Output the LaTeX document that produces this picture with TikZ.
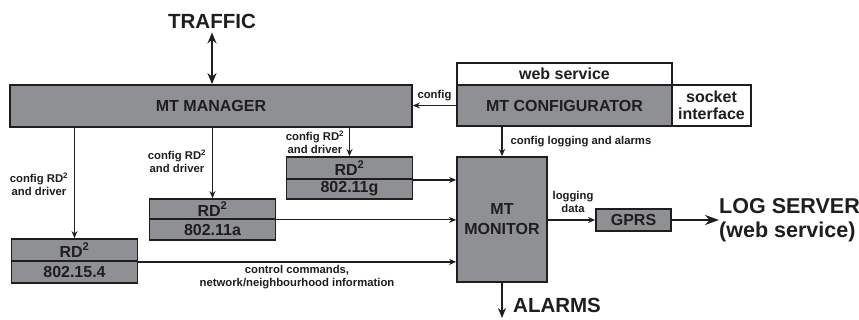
\documentclass[tikz,border=0pt]{standalone}
\usepackage{fontspec}
\setmainfont{Liberation Sans}
\usetikzlibrary{arrows.meta}
\definecolor{boxgray}{RGB}{143,144,148}
\definecolor{ink}{RGB}{30,30,30}
\begin{document}
\begin{tikzpicture}[x=1pt,y=-1pt,
  blk/.style={draw=ink,line width=1.8pt,fill=boxgray,inner sep=0pt,font=\bfseries\fontsize{16}{17}\selectfont,text=ink},
  wht/.style={blk,fill=white},
  lbl/.style={font=\bfseries\fontsize{11.3}{13}\selectfont,text=ink,align=center,inner sep=0pt},
  big/.style={font=\bfseries\fontsize{20.5}{24}\selectfont,text=ink,inner sep=0pt},
  conn/.style={draw=ink,line width=1.3pt,-{Stealth[length=7pt,width=6pt]}},
  plain/.style={draw=ink,line width=1.3pt}]
\useasboundingbox (0,0) rectangle (859,320);
\clip (0,0) rectangle (859,320);
\fill[white] (0,0) rectangle (859,320);
% main boxes
\node[blk,minimum width=402pt,minimum height=42pt] (mgr) at (211,106) {MT MANAGER};
\node[wht,minimum width=215pt,minimum height=22pt] (web) at (564.5,74) {web service};
\node[blk,minimum width=215pt,minimum height=41pt] (cfg) at (564.5,105.5) {MT CONFIGURATOR};
\node[wht,minimum width=79pt,minimum height=41pt,align=center,font=\bfseries\fontsize{16}{17}\selectfont] (sock) at (711.5,105.5) {socket\\interface};
\node[blk,minimum width=90pt,minimum height=125pt,align=center,font=\bfseries\fontsize{16}{20}\selectfont] (mon) at (502,219.5) {MT\\MONITOR};
\node[blk,minimum width=75pt,minimum height=22pt] (gprs) at (633.5,220) {GPRS};
% RD2 boxes
\node[blk,minimum width=126pt,minimum height=22pt] (aT) at (74.5,250) {RD\textsuperscript{2}};
\node[blk,minimum width=126pt,minimum height=22pt] (aB) at (74.5,272) {802.15.4};
\node[blk,minimum width=126pt,minimum height=20pt] (bT) at (212.5,209) {RD\textsuperscript{2}};
\node[blk,minimum width=126pt,minimum height=21pt] (bB) at (212.5,229.5) {802.11a};
\node[blk,minimum width=126pt,minimum height=22pt] (cT) at (349.5,168) {RD\textsuperscript{2}};
\node[blk,minimum width=126pt,minimum height=20pt] (cB) at (349.5,189) {802.11g};
% big texts
\node[big] (traffic) at (212,21) {TRAFFIC};
\node[big,anchor=west,align=left,font=\bfseries\fontsize{21.5}{24}\selectfont] (log) at (719,220) {LOG SERVER\\(web service)};
\node[big,anchor=west] (alarms) at (513,305) {ALARMS};
\coordinate (alarmend) at (502,318);
% traffic arrow
\draw[draw=ink,line width=2pt,{Stealth[length=11pt,width=9pt]}-{Stealth[length=11pt,width=9pt]}] (traffic.south) ++(0,4) coordinate (tr) -- (mgr.north -| tr);
% config arrows
\draw[conn] (cfg.west) -- (mgr.east |- cfg.west) node[lbl,midway,above=4pt] (lc) {config};
\draw[conn] (cfg.south -| mon.north) -- (mon.north) node[lbl,midway,anchor=west,xshift=8pt] (lcl) {config logging and alarms};
\draw[conn] (mgr.south -| aT.north) -- (aT.north);
\draw[conn] (mgr.south -| bT.north) -- (bT.north);
\draw[conn] (mgr.south -| cT.north) -- (cT.north);
\node[lbl] (la) at (39,184) {config RD\textsuperscript{2}\\and driver};
\node[lbl] (lb) at (177,161) {config RD\textsuperscript{2}\\and driver};
\node[lbl] (lcc) at (315,142) {config RD\textsuperscript{2}\\and driver};
% into monitor
\draw[conn] (cT.south east) -- (cT.south east -| mon.west);
\draw[conn,line width=1pt] (bT.south east) -- (bT.south east -| mon.west);
\draw[conn] (aT.south east) -- (aT.south east -| mon.west);
\node[lbl] (lctl) at (297,277) {control commands,\\network/neighbourhood information};
% monitor outputs
\draw[conn] (mon.east |- gprs.west) -- (gprs.west);
\node[lbl] (lld) at (573,202) {logging\\data};
\draw[draw=ink,line width=2pt,-{Stealth[length=14pt,width=10pt]}] (gprs.east) -- (log.west);
\draw[draw=ink,line width=2pt,-{Stealth[length=10pt,width=8pt]}] (mon.south) -- (alarmend);
\end{tikzpicture}
\end{document}
